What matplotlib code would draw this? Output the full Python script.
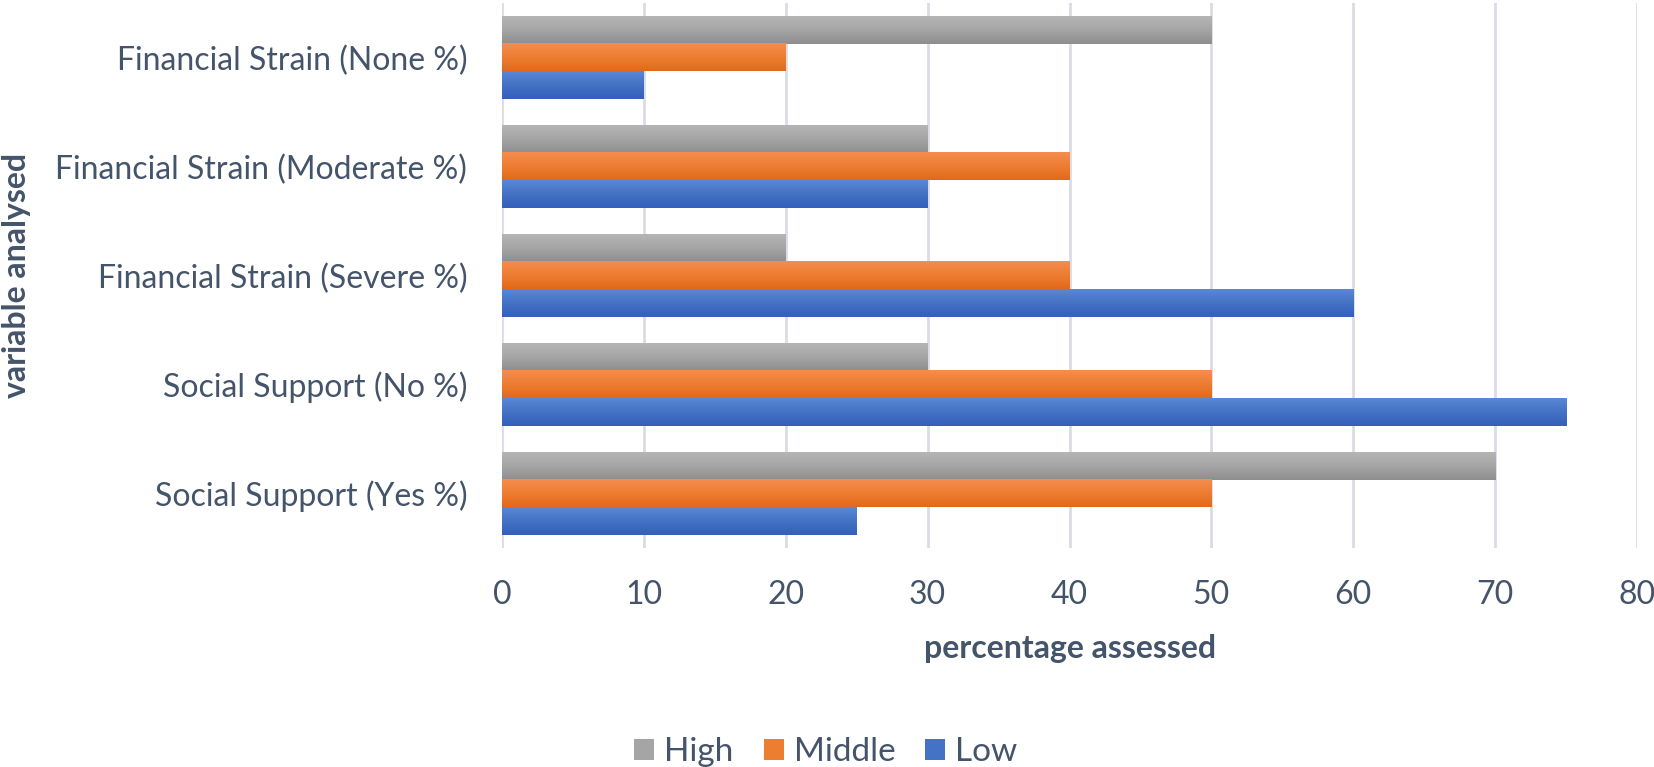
import numpy as np
import matplotlib.pyplot as plt
from matplotlib.colors import LinearSegmentedColormap

# categories top to bottom
categories = ['Financial Strain (None %)', 'Financial Strain (Moderate %)',
              'Financial Strain (Severe %)', 'Social Support (No %)',
              'Social Support (Yes %)']
series = ['High', 'Middle', 'Low']
high = [50, 30, 20, 30, 70]
middle = [20, 40, 40, 50, 50]
low = [10, 30, 60, 75, 25]
xticks = [0, 10, 20, 30, 40, 50, 60, 70, 80]

# light top -> dark bottom, Excel style gradient fill
grads = {
    'High': ('#B5B5B5', '#A5A5A5', '#8E8E8E'),
    'Middle': ('#F58D4F', '#ED7D31', '#E2691B'),
    'Low': ('#5A87D6', '#4472C4', '#345FBC'),
}
txt = '#44546A'
font = 'Lato'

plt.rcParams['font.family'] = [font, 'DejaVu Sans']

fig = plt.figure(figsize=(16.54, 7.67), dpi=100)
ax = fig.add_axes([502/1654, 1-548/767, (1637-502)/1654, (548-3)/767])

y = np.arange(len(categories))
h = 0.2525
vals = [high, middle, low]
for i, (name, v) in enumerate(zip(series, vals)):
    c_top, c_mid, c_bot = grads[name]
    bars = ax.barh(y - h + i*h, v, height=h, color=c_mid, label=name, zorder=2)
    cmap = LinearSegmentedColormap.from_list(name, [c_top, c_mid, c_bot])
    grad = np.linspace(0, 1, 64).reshape(-1, 1)
    for b in bars:
        x0, y0 = b.get_x(), b.get_y()
        ax.imshow(grad, cmap=cmap, aspect='auto', interpolation='bilinear',
                  extent=(x0, x0 + b.get_width(), y0 + b.get_height(), y0),
                  zorder=3)

ax.set_xlim(0, 80)
ax.set_ylim(len(categories) - 0.5, -0.5)
ax.set_xticks(xticks)
ax.set_yticks(y)
ax.set_yticklabels(categories)
ax.grid(axis='x', color='#D9DDE3', linewidth=2, zorder=0)
ax.set_axisbelow(True)
for s in ax.spines.values():
    s.set_visible(False)
ax.tick_params(length=0, labelsize=23, labelcolor=txt)
ax.tick_params(axis='x', pad=23)
ax.tick_params(axis='y', pad=25)

fig.text(1070/1654, 1-658/767, 'percentage assessed', ha='center', va='baseline',
         fontsize=23, fontweight='bold', color=txt)
fig.text(17/1654, 1-275/767, 'variable analysed', ha='center', va='center',
         rotation=90, fontsize=23, fontweight='bold', color=txt)

leg = fig.legend(loc='center', bbox_to_anchor=(826/1654, 1-752/767), ncol=3,
                 frameon=False, fontsize=24, handlelength=0.6, handleheight=0.6,
                 handletextpad=0.3, columnspacing=0.9, borderpad=0.1)
for t in leg.get_texts():
    t.set_color(txt)

fig.savefig('out.png', dpi=100)
